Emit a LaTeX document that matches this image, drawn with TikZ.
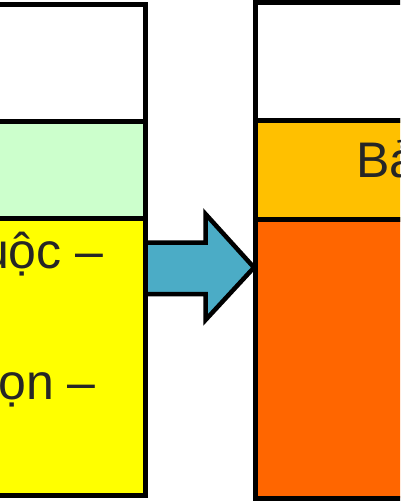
\documentclass[tikz,border=0pt]{standalone}
\usepackage{fontspec}
\setmainfont{Liberation Sans}
\usetikzlibrary{positioning}

\definecolor{mint}{HTML}{CCFFCC}
\definecolor{lemon}{HTML}{FFFF00}
\definecolor{amber}{HTML}{FFC000}
\definecolor{blaze}{HTML}{FF6600}
\definecolor{teal}{HTML}{4BACC6}
\definecolor{ink}{HTML}{262626}

\tikzstyle{cell}=[rectangle,draw=black,line width=5pt,inner sep=0pt,outer sep=0pt]
\tikzstyle{txt}=[anchor=base west,inner sep=0pt,text=ink,font=\fontsize{50pt}{60pt}\selectfont]

\begin{document}
\begin{tikzpicture}[x=1pt,y=-1pt,node distance=0pt]
  \useasboundingbox (0,0) rectangle (400,501);
  \clip (0,0) rectangle (400,501);
  % arrow between the columns
  \draw[line width=4.5pt,fill=teal,line join=miter]
    (145.5,242.5) -- (205.5,242.5) -- (205.5,214) -- (254,267.5)
    -- (205.5,320) -- (205.5,294) -- (145.5,294) -- cycle;
  % left column
  \node (Ltop) [cell,fill=white,minimum width=170.5pt,minimum height=117pt,anchor=north east] at (145.5,4.5) {};
  \node (Lmid) [cell,fill=mint,minimum width=170.5pt,minimum height=97pt,below=of Ltop] {};
  \node (Lbot) [cell,fill=lemon,minimum width=170.5pt,minimum height=276.5pt,below=of Lmid] {};
  % right column
  \node (Rtop) [cell,fill=white,minimum width=169.5pt,minimum height=117.5pt,anchor=north west] at (255.5,2.5) {};
  \node (Rmid) [cell,fill=amber,minimum width=169.5pt,minimum height=99.5pt,below=of Rtop] {};
  \node (Rbot) [cell,fill=blaze,minimum width=169.5pt,minimum height=278.5pt,below=of Rmid] {};
  % texts
  \node (dep) [txt] at (-19,268) {uộc –};
  \node (sel) [txt] at (-2,399) {ọn –};
  \node (tab) [txt] at (356,177) {Bả};
\end{tikzpicture}
\end{document}
